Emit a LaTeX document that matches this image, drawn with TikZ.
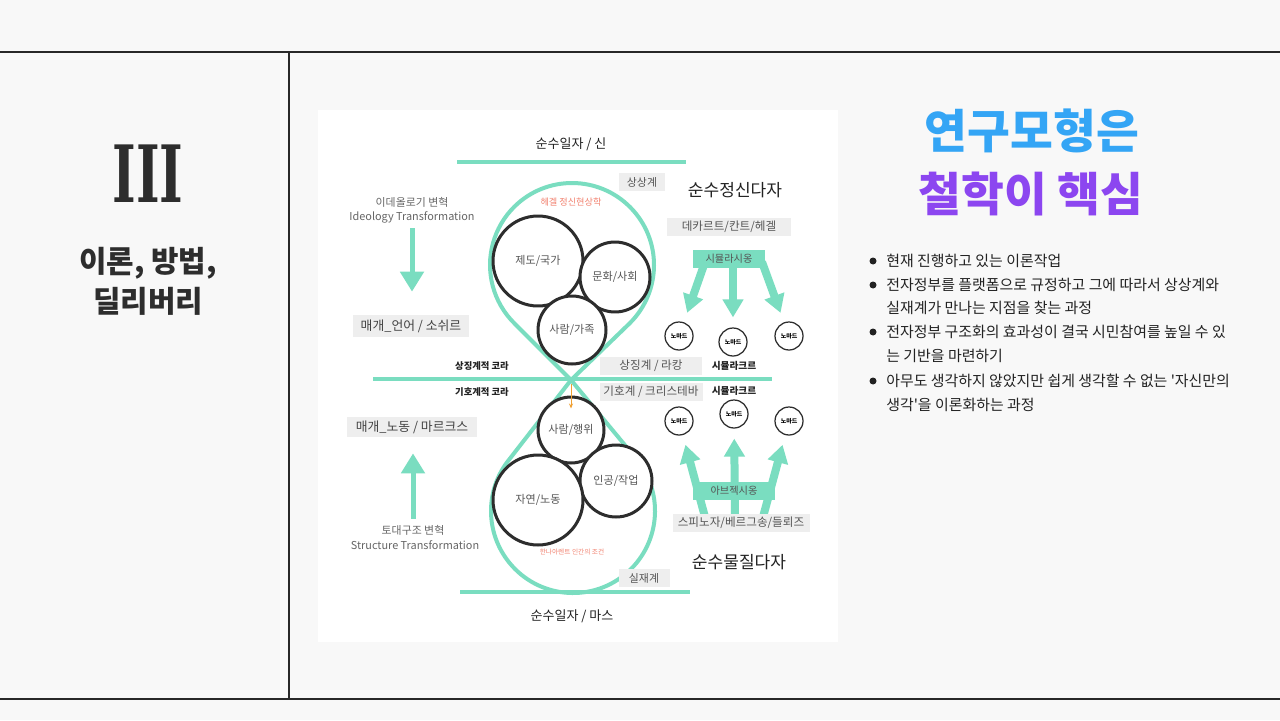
\documentclass[tikz,border=0pt]{standalone}
\usepackage{fontspec}
\setmainfont{Noto Sans CJK KR}
\newfontfamily\krfont{Noto Sans CJK KR}
\newfontfamily\numfont{DejaVu Serif}
\usetikzlibrary{arrows.meta,positioning,calc}
\newcommand\fsz[1]{\fontsize{#1}{#1}\selectfont}
\definecolor{pagebg}{RGB}{248,248,248}
\definecolor{rule}{RGB}{40,40,40}
\definecolor{mint}{RGB}{122,221,192}
\definecolor{boxgray}{RGB}{238,238,238}
\definecolor{txtgray}{RGB}{85,85,85}
\definecolor{ink}{RGB}{34,34,34}
\definecolor{salmon}{RGB}{242,130,112}
\definecolor{ringgray}{RGB}{45,45,45}
\definecolor{skyblue}{RGB}{52,165,245}
\definecolor{violet}{RGB}{140,70,240}
\definecolor{amber}{RGB}{240,160,50}

\begin{document}
\begin{tikzpicture}[x=0.02cm, y=-0.02cm,
  font=\krfont,
  tag/.style={fill=boxgray, text=txtgray, inner sep=0pt, minimum height=0.35cm, font=\krfont\fsz{6.6}},
  plain/.style={inner sep=0pt, text=ink},
  ring/.style={circle, draw=ringgray, line width=0.6mm, fill=white, inner sep=0pt, text=txtgray, font=\krfont\fsz{6.3}},
  nomad/.style={circle, draw=ringgray, line width=0.25mm, fill=white, minimum size=0.56cm, inner sep=0pt, font=\krfont\bfseries\fsz{3.4}},
  band/.style={mint, line width=0.8mm, line join=round},
  bigarr/.style={mint, line width=1.6mm, -{Triangle[width=4mm,length=3.6mm]}},
  sidearr/.style={mint, line width=1mm, -{Triangle[width=4.6mm,length=4mm]}},
  dot/.style={circle, fill=ink, inner sep=0pt, minimum size=0.14cm},
  bul/.style={anchor=west, inner sep=0pt, text=ink, font=\krfont\fsz{8.5}}]
% page
\fill[pagebg] (0,0) rectangle (1280,720);
\useasboundingbox (0,0) rectangle (1280,720);
\draw[rule, line width=0.3mm] (0,52) -- (1280,52);
\draw[rule, line width=0.3mm] (0,699) -- (1280,699);
\draw[rule, line width=0.3mm] (289,52) -- (289,699);
% left panel
\node[plain, text=ringgray, font=\numfont\bfseries\fsz{45}, xscale=0.64] (roman) at (148,174) {III};
\node[plain, text=ringgray, font=\krfont\bfseries\fsz{17}] (sec1) at (148,263) {이론, 방법,};
\node[plain, text=ringgray, font=\krfont\bfseries\fsz{17}] (sec2) at (148,301) {딜리버리};
% diagram sheet
\fill[white] (318,110) rectangle (838,642);
\coordinate (knot) at (571,380);
\coordinate (upc) at (572,265);
\coordinate (loc) at (573,511);
\draw[band] (upc) ++(45.5:82) arc[start angle=45.5, end angle=-225.5, radius=82] -- (knot) -- cycle;
\draw[band] (loc) ++(-39:82) arc[start angle=-39, end angle=219, radius=82] -- (knot) -- cycle;
\coordinate (topL) at (457,162); \coordinate (topR) at (686,162);
\coordinate (midL) at (373,379); \coordinate (midR) at (772,379);
\coordinate (botL) at (460,592); \coordinate (botR) at (690,592);
\draw[band] (topL) -- (topR);
\draw[band] (midL) -- (midR);
\draw[band] (botL) -- (botR);
% circles
\node[ring, minimum size=1.8cm] (state) at (538,261) {제도/국가};
\node[ring, minimum size=1.4cm] (culture) at (615,277) {문화/사회};
\node[ring, minimum size=1.36cm] (family) at (572,330) {사람/가족};
\node[ring, minimum size=1.32cm] (action) at (571,430) {사람/행위};
\node[ring, minimum size=1.44cm] (work) at (616,481) {인공/작업};
\node[ring, minimum size=1.8cm] (labour) at (538,500) {자연/노동};
\draw[amber, line width=0.2mm, -{Stealth[length=1mm,width=0.8mm]}] ($(knot)+(0,4)$) -- ($(action.north)+(0,13)$);
% labels around the knot
\node[plain, font=\krfont\fsz{7.4}] (one1) at (571,144) {순수일자 / 신};
\node[plain, font=\krfont\fsz{7.4}] (one2) at (572,616) {순수일자 / 마스};
\node[plain, text=salmon, font=\krfont\fsz{5.2}] (hegel) at (571,202) {헤겔 정신현상학};
\node[plain, text=salmon, font=\krfont\fsz{3.8}] (arendt) at (572,552) {한나아렌트 인간의 조건};
\node[plain, font=\krfont\bfseries\fsz{5.3}] (chora1) at (482,366) {상징계적 코라};
\node[plain, font=\krfont\bfseries\fsz{5.3}] (chora2) at (482,392) {기호계적 코라};
\node[plain, font=\krfont\fsz{9.7}] (spirit) at (735,190) {순수정신다자};
\node[plain, font=\krfont\fsz{9.7}] (matter) at (739,562) {순수물질다자};
\node[plain, font=\krfont\bfseries\fsz{5.5}] (simu1) at (734,366) {시뮬라크르};
\node[plain, font=\krfont\bfseries\fsz{5.5}] (simu2) at (734,391) {시뮬라크르};
% nomads
\node[nomad] (nu1) at (679,336) {노마드};
\node[nomad] (nu2) at (733,342) {노마드};
\node[nomad] (nu3) at (789,336) {노마드};
\node[nomad] (nl1) at (679,421) {노마드};
\node[nomad] (nl2) at (734,414) {노마드};
\node[nomad] (nl3) at (789,421) {노마드};
\coordinate (simul) at (729,259);
\coordinate (abj) at (734,491);
\draw[bigarr, shorten >=2mm] ($(simul)+(-24,3)$) -- (nu1);
\draw[bigarr, shorten >=2mm] ($(simul)+(4,3)$) -- (nu2);
\draw[bigarr, shorten >=2mm] ($(simul)+(33,3)$) -- (nu3);
\draw[bigarr, shorten >=2mm] ($(abj)+(-29,26)$) -- (nl1);
\draw[bigarr, shorten >=2mm] ($(abj)+(1,26)$) -- (nl2);
\draw[bigarr, shorten >=2mm] ($(abj)+(29,26)$) -- (nl3);
% boxes
\node[tag, minimum width=0.92cm, font=\krfont\fsz{6.2}] (imag) at (642,182) {상상계};
\node[tag, minimum width=1.02cm, font=\krfont\fsz{6.2}] (real) at (644,578) {실재계};
\node[tag, minimum width=2.48cm] (desc) at (729,227) {데카르트/칸트/헤겔};
\node[tag, fill=mint, minimum width=1.44cm, font=\krfont\fsz{5.8}] (simulbox) at (simul) {시뮬라시옹};
\node[tag, fill=mint, minimum width=1.64cm, font=\krfont\fsz{5.8}] (abjbox) at (abj) {아브젝시옹};
\node[tag, minimum width=2.74cm] (spin) at (741,523) {스피노자/베르그송/들뢰즈};
\node[tag, minimum width=2.04cm] (lacan) at (651,366) {상징계 / 라캉};
\node[tag, minimum width=2.06cm] (krist) at (651,392) {기호계 / 크리스테바};
\node[tag, minimum width=2.34cm, minimum height=0.44cm, text=ink!85, font=\krfont\fsz{7.3}] (medlang) at (411,326) {매개\_언어 / 소쉬르};
\node[tag, minimum width=2.6cm, minimum height=0.4cm, text=ink!85, font=\krfont\fsz{7.3}] (medlab) at (412,427) {매개\_노동 / 마르크스};
% transformations
\node[plain, text=txtgray!90, font=\krfont\fsz{6.2}] (ideo1) at (412,202) {이데올로기 변혁};
\node[plain, text=txtgray!90, font=\krfont\fsz{6.2}] (ideo2) at (412,217) {Ideology Transformation};
\node[plain, text=txtgray!90, font=\krfont\fsz{6.2}] (strc1) at (413,530) {토대구조 변혁};
\node[plain, text=txtgray!90, font=\krfont\fsz{6.2}] (strc2) at (415,545) {Structure Transformation};
\draw[sidearr, shorten <=1mm, shorten >=4.6mm] (ideo2.south) -- (ideo2.south |- medlang.north);
\draw[sidearr, shorten <=1.2mm, shorten >=3.2mm] (strc1.north) -- (strc1.north |- medlab.south);
% title
\node[plain, text=skyblue, font=\krfont\bfseries\fsz{26.5}] (head1) at (1032,131) {연구모형은};
\node[plain, text=violet, font=\krfont\bfseries\fsz{26.5}] (head2) at (1031,194) {철학이 핵심};
% bullets
\node[dot] (d1) at (873,261) {};
\node[dot] (d2) at (873,285) {};
\node[dot] (d3) at (873,332) {};
\node[dot] (d4) at (873,381) {};
\node[bul] (l1) at (886,261) {현재 진행하고 있는 이론작업};
\node[bul] (l2) at (886,285) {전자정부를 플랫폼으로 규정하고 그에 따라서 상상계와};
\node[bul] (l3) at (886,308) {실재계가 만나는 지점을 찾는 과정};
\node[bul] (l4) at (886,332) {전자정부 구조화의 효과성이 결국 시민참여를 높일 수 있};
\node[bul] (l5) at (886,356) {는 기반을 마련하기};
\node[bul] (l6) at (886,381) {아무도 생각하지 않았지만 쉽게 생각할 수 없는 '자신만의};
\node[bul] (l7) at (886,405) {생각'을 이론화하는 과정};
\end{tikzpicture}
\end{document}
